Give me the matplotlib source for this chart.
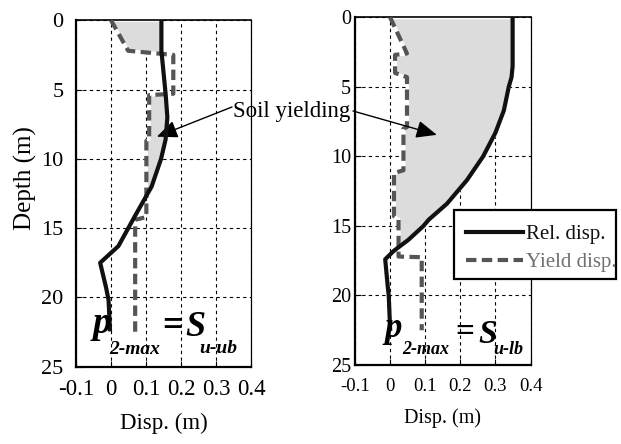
import numpy as np
import matplotlib
matplotlib.use("Agg")
import matplotlib.pyplot as plt
from matplotlib.patches import Rectangle

plt.rcParams['font.family'] = ['Liberation Serif', 'DejaVu Serif']

# upper-bound strength case (left)
ub_rel_depth = [0, 2.2, 5.3, 7.0, 8.6, 10.0, 12.0, 14.1, 16.3, 17.5, 19.3, 20.2, 22.3]
ub_rel_disp = [0.144, 0.144, 0.156, 0.161, 0.156, 0.143, 0.116, 0.069, 0.021, -0.031, -0.014, -0.007, -0.003]
ub_yld_depth = [0, 2.2, 2.5, 5.3, 5.4, 8.6, 8.7, 14.2, 14.4, 22.5]
ub_yld_disp = [0.0, 0.049, 0.178, 0.178, 0.109, 0.109, 0.101, 0.101, 0.069, 0.069]

# lower-bound strength case (right)
lb_rel_depth = [0, 3.5, 4.3, 5.0, 6.7, 8.3, 10.0, 11.7, 13.4, 14.55, 15.0, 16.0, 16.8, 17.4, 19.3, 20.0, 22.4]
lb_rel_disp = [0.349, 0.349, 0.346, 0.338, 0.324, 0.300, 0.265, 0.219, 0.162, 0.110, 0.095, 0.052, 0.010, -0.014, -0.007, -0.004, 0.0]
lb_yld_depth = [0, 2.6, 2.7, 4.0, 4.3, 7.9, 8.0, 11.0, 11.2, 14.3, 14.5, 17.2, 17.25, 22.5]
lb_yld_disp = [0.0, 0.048, 0.014, 0.014, 0.048, 0.048, 0.038, 0.038, 0.011, 0.011, 0.024, 0.024, 0.090, 0.090]

xticks = [-0.1, 0, 0.1, 0.2, 0.3, 0.4]
xticklabels = ['-0.1', '0', '0.1', '0.2', '0.3', '0.4']
yticks = [0, 5, 10, 15, 20, 25]

W, H = 621, 444
fig = plt.figure(figsize=(W / 100, H / 100), dpi=100)
ax1 = fig.add_axes([0.1224, 0.1741, 0.2818, 0.7802])
ax2 = fig.add_axes([0.5717, 0.1779, 0.2826, 0.7831])


def draw(ax, rd, rx, yd, yx, xtsize, ytsize, ypad):
    # shaded zone where relative disp exceeds yield disp
    grid = np.linspace(0, max(rd[-1], yd[-1]), 600)
    r = np.interp(grid, rd, rx)
    y = np.interp(grid, yd, yx)
    ax.fill_betweenx(grid, y, r, where=(r > y) & (grid <= rd[-1]), interpolate=True,
                     facecolor='#dcdcdc', edgecolor='white', lw=2.2, zorder=1)
    ax.plot(rx, rd, color='#111111', lw=3, zorder=4, label='Rel. disp.')
    ax.plot(yx, yd, color='#555555', lw=3, ls=(0, (2.5, 1.3)), zorder=3, label='Yield disp.')
    ax.set_xlim(-0.1, 0.4)
    ax.set_ylim(25, 0)
    ax.set_xticks(xticks)
    ax.set_xticklabels(xticklabels)
    ax.set_yticks(yticks)
    ax.grid(True, color='black', ls=(0, (3, 3)), lw=0.8, zorder=0)
    ax.set_axisbelow(True)
    ax.tick_params(axis='x', direction='in', length=4, labelsize=xtsize, pad=9)
    ax.tick_params(axis='y', direction='in', length=4, labelsize=ytsize, pad=ypad)
    for s in ['left', 'bottom']:
        ax.spines[s].set_linewidth(1.6)
    ax.spines['top'].set_linewidth(1.2)
    ax.spines['right'].set_linewidth(0.9)


draw(ax1, ub_rel_depth, ub_rel_disp, ub_yld_depth, ub_yld_disp, 16.5, 16, 9)
draw(ax2, lb_rel_depth, lb_rel_disp, lb_yld_depth, lb_yld_disp, 13.5, 14.5, 3)

ax1.set_xlabel('Disp. (m)', fontsize=16.5, labelpad=9)
ax2.set_xlabel('Disp. (m)', fontsize=14.5, labelpad=10)
ax1.set_ylabel('Depth (m)', fontsize=18)
ax1.yaxis.set_label_coords(-0.223, 0.545)

# p2-max = Su labels
bi = dict(fontweight='bold', fontstyle='italic', zorder=6)
ax1.text(-0.051, 22.55, 'p', fontsize=27, va='baseline', **bi)
ax1.text(-0.006, 24.05, '2-max', fontsize=14, va='baseline', **bi)
ax1.text(0.146, 22.1, '=', fontsize=26, va='center', fontweight='bold', zorder=6)
ax1.text(0.211, 22.8, 'S', fontsize=26, va='baseline', **bi)
ax1.text(0.251, 24.0, 'u-ub', fontsize=14, va='baseline', **bi)

ax2.text(-0.017, 23.0, 'p', fontsize=25, va='baseline', **bi)
ax2.text(0.034, 24.24, '2-max', fontsize=13, va='baseline', **bi)
ax2.text(0.186, 22.66, '=', fontsize=24, va='center', fontweight='bold', zorder=6)
ax2.text(0.251, 23.4, 'S', fontsize=24, va='baseline', **bi)
ax2.text(0.294, 24.24, 'u-lb', fontsize=13, va='baseline', **bi)

# soil yielding callout
fig.text(292 / W, 1 - 117 / H, 'Soil yielding', fontsize=16.5, ha='center', va='baseline')
arrow = dict(arrowstyle='-|>,head_length=0.7,head_width=0.3', color='black', lw=1,
             mutation_scale=18, shrinkA=0, shrinkB=0)
ax1.annotate('', xy=(0.131, 8.4), xycoords='data',
             xytext=(232, H - 107), textcoords='figure pixels', arrowprops=arrow)
ax2.annotate('', xy=(0.133, 8.45), xycoords='data',
             xytext=(353, H - 111), textcoords='figure pixels', arrowprops=arrow)

# legend box, the text runs up to its right edge
ax1.set_zorder(3)
ax2.set_zorder(3)
box = Rectangle((454 / W, 1 - 279 / H), 162 / W, 69 / H, transform=fig.transFigure,
                facecolor='white', edgecolor='black', lw=1.6, zorder=9, clip_on=False)
ax2.add_artist(box)
leg = ax2.legend(loc='upper left', bbox_to_anchor=(451 / W, 1 - 210 / H),
                 bbox_transform=fig.transFigure, fontsize=15, frameon=False,
                 handlelength=2.75, handletextpad=0.15, labelspacing=0.4,
                 borderpad=0.7, borderaxespad=0)
leg.set_zorder(10)
leg.get_texts()[0].set_color('#111111')
leg.get_texts()[1].set_color('#707070')

fig.savefig('out.png', dpi=100)
